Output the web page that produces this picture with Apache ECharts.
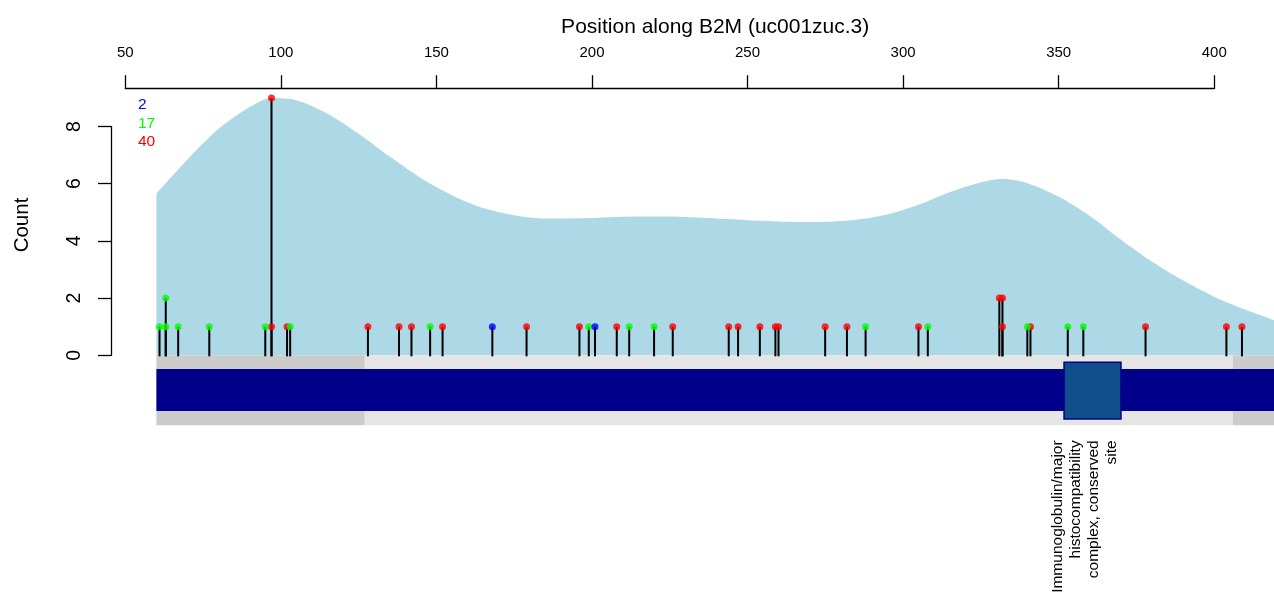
<!DOCTYPE html>
<html><head><meta charset="utf-8">
<script src="https://cdn.jsdelivr.net/npm/echarts@6/dist/echarts.min.js"></script>
<style>html,body{margin:0;padding:0;background:#fff}#c{width:1274px;height:608px}</style>
</head><body><div id="c"></div>
<script>
// ---------- data ----------
const xTicks = [50, 100, 150, 200, 250, 300, 350, 400];
const yTicks = [0, 2, 4, 6, 8];
const mutPos   = [61, 63, 63, 67, 77, 95, 97, 97, 102, 103, 128, 138, 142, 148, 152, 168, 179, 196, 199, 201, 208, 212, 220, 226, 244, 247, 254, 259, 260, 275, 282, 288, 305, 308, 331, 332, 332, 340, 341, 353, 358, 378, 404, 409];
const mutCount = [1, 1, 2, 1, 1, 1, 9, 1, 1, 1, 1, 1, 1, 1, 1, 1, 1, 1, 1, 1, 1, 1, 1, 1, 1, 1, 1, 1, 1, 1, 1, 1, 1, 1, 2, 2, 1, 1, 1, 1, 1, 1, 1, 1];
const mutType  = ['g','g','g','g','g','g','r','r','r','g','r','r','r','g','r','b','r','r','g','b','r','g','g','r','r','r','r','r','r','r','r','g','r','g','r','r','r','g','r','g','g','r','r','r'];
const typeOrder = ['r', 'g', 'b'];
const typeColors = { r: '#FF0000', g: '#00FF00', b: '#0000FF' };
const legendCounts = [2, 17, 40];
const legendTypes = ['b', 'g', 'r'];
const densityPos = [60, 70, 80, 90, 97, 105, 115, 125, 135, 145, 155, 165, 175, 185, 200, 215, 230, 245, 260, 272, 285, 295, 305, 315, 325, 332, 340, 350, 360, 370, 380, 390, 400, 410, 419.3];
const densityVal = [5.66, 6.85, 7.92, 8.68, 9.0, 8.92, 8.45, 7.75, 6.95, 6.2, 5.6, 5.15, 4.9, 4.78, 4.8, 4.85, 4.84, 4.76, 4.68, 4.66, 4.74, 4.92, 5.26, 5.7, 6.04, 6.16, 6.02, 5.55, 4.88, 4.05, 3.28, 2.62, 2.05, 1.6, 1.23];
const regionStart = [60, 127, 406.1];
const regionEnd   = [127, 406.1, 419.3];
const regionShade = ['#CCCCCC', '#E5E5E5', '#CCCCCC'];
const transcriptRange = [60, 419.3];
const domainStart = [351.8];
const domainEnd   = [370.1];
const domainLabel = ['Immunoglobulin/major\nhistocompatibility\ncomplex, conserved\nsite'];
const xTitle = 'Position along B2M (uc001zuc.3)';
const yTitle = 'Count';

// ---------- layout ----------
const FONT = '"Liberation Sans", Arial, Helvetica, sans-serif';
const pxX = 3.1112;            // px per position unit
const y0px = 355.3, pxY = 28.6; // pixel of count 0, px per count
const mainMinY = -2.5, mainMaxY = 9.5;
const xAxisStart = 125.3;

const chart = echarts.init(document.getElementById('c'), null, { renderer: 'canvas' });

const stickData = mutPos.map((p, i) => [p, mutCount[i]]);
const dotSeries = typeOrder.map(t => ({
  type: 'scatter', xAxisIndex: 0, yAxisIndex: 0, z: 10,
  symbol: 'circle', symbolSize: 7, silent: true,
  itemStyle: { color: typeColors[t], borderWidth: 0 },
  data: mutPos.map((p, i) => mutType[i] === t ? [p, mutCount[i]] : null).filter(d => d)
}));

const option = {
  animation: false,
  backgroundColor: '#fff',
  grid: [
    { left: xAxisStart + (60 - 50) * pxX, top: y0px - mainMaxY * pxY, width: 1274 - (xAxisStart + 10 * pxX), height: (mainMaxY - mainMinY) * pxY },
    { left: xAxisStart, top: 87.7, width: (xTicks[xTicks.length - 1] - xTicks[0]) * pxX, height: 1 },
    { left: 111, top: y0px - yTicks[yTicks.length - 1] * pxY, width: 1, height: yTicks[yTicks.length - 1] * pxY }
  ],
  xAxis: [
    { gridIndex: 0, type: 'value', position: 'top', min: transcriptRange[0], max: transcriptRange[1],
      axisLine: { show: false }, axisTick: { show: false }, axisLabel: { show: false }, splitLine: { show: false },
      name: xTitle, nameLocation: 'middle', nameGap: 46,
      nameTextStyle: { fontFamily: FONT, fontSize: 21, color: '#000' } },
    { gridIndex: 1, type: 'value', position: 'top', min: xTicks[0], max: xTicks[xTicks.length - 1], interval: 50,
      axisLine: { show: true, lineStyle: { color: '#000', width: 1.3 } },
      axisTick: { show: true, length: 13.5, lineStyle: { color: '#000', width: 1.3 } },
      axisLabel: { show: true, margin: 27.5, fontFamily: FONT, fontSize: 15, color: '#000' },
      splitLine: { show: false } },
    { gridIndex: 2, type: 'value', show: false, min: 0, max: 1 }
  ],
  yAxis: [
    { gridIndex: 0, type: 'value', min: mainMinY, max: mainMaxY, show: false },
    { gridIndex: 1, type: 'value', min: 0, max: 1, show: false },
    { gridIndex: 2, type: 'value', position: 'left', min: yTicks[0], max: yTicks[yTicks.length - 1], interval: 2,
      axisLine: { show: true, lineStyle: { color: '#000', width: 1.3 } },
      axisTick: { show: true, length: 13, lineStyle: { color: '#000', width: 1.3 } },
      axisLabel: { show: true, rotate: 90, margin: 26, fontFamily: FONT, fontSize: 19.5, color: '#000' },
      splitLine: { show: false } }
  ],
  graphic: [
    { type: 'text', x: 22, y: 225, rotation: Math.PI / 2,
      style: { text: yTitle, font: '20.5px ' + FONT, fill: '#000', align: 'center', verticalAlign: 'middle' } }
  ].concat(legendCounts.map((n, i) => ({
    type: 'text', x: 138, y: 105 + i * 18.4,
    style: { text: String(n), font: '15.5px ' + FONT, fill: typeColors[legendTypes[i]], align: 'left', verticalAlign: 'middle' }
  }))),
  series: [
    { type: 'line', xAxisIndex: 0, yAxisIndex: 0, z: 1, silent: true,
      data: densityPos.map((p, i) => [p, densityVal[i]]),
      smooth: 0.3, showSymbol: false, symbol: 'none',
      lineStyle: { width: 0, color: '#ADD8E6' },
      areaStyle: { color: '#ADD8E6', opacity: 1, origin: 0 } },
    { type: 'custom', xAxisIndex: 0, yAxisIndex: 0, z: 2, silent: true,
      data: regionStart.map((s, i) => [s, regionEnd[i], i]),
      renderItem: (params, api) => {
        const a = api.coord([api.value(0), 0]);
        const b = api.coord([api.value(1), -2.45]);
        return { type: 'rect', shape: { x: a[0], y: a[1], width: b[0] - a[0], height: b[1] - a[1] },
                 style: { fill: regionShade[api.value(2)] } };
      } },
    { type: 'custom', xAxisIndex: 0, yAxisIndex: 0, z: 3, silent: true,
      data: [[transcriptRange[0], transcriptRange[1]]],
      renderItem: (params, api) => {
        const a = api.coord([api.value(0), -0.48]);
        const b = api.coord([api.value(1), -1.95]);
        return { type: 'rect', shape: { x: a[0], y: a[1], width: b[0] - a[0], height: b[1] - a[1] },
                 style: { fill: '#00008B' } };
      } },
    { type: 'custom', xAxisIndex: 0, yAxisIndex: 0, z: 4, silent: true, clip: false,
      data: domainStart.map((s, i) => [s, domainEnd[i], i]),
      renderItem: (params, api) => {
        const a = api.coord([api.value(0), -0.245]);
        const b = api.coord([api.value(1), -2.23]);
        const g = api.coord([api.value(0), -2.45]);
        const cx = (a[0] + b[0]) / 2 - 7.5;
        return { type: 'group', children: [
          { type: 'rect', shape: { x: a[0], y: a[1], width: b[0] - a[0], height: b[1] - a[1] },
            style: { fill: '#104E8B', stroke: '#00008B', lineWidth: 1.5 } },
          { type: 'text', x: cx, y: g[1] + 15, rotation: Math.PI / 2,
            style: { text: domainLabel[api.value(2)], font: '15.5px ' + FONT, fill: '#000',
                     align: 'right', verticalAlign: 'middle', lineHeight: 18 } }
        ] };
      } },
    { type: 'custom', xAxisIndex: 0, yAxisIndex: 0, z: 5, silent: true,
      data: stickData,
      renderItem: (params, api) => {
        const a = api.coord([api.value(0), 0]);
        const b = api.coord([api.value(0), api.value(1)]);
        return { type: 'line', shape: { x1: a[0], y1: a[1] + 1, x2: b[0], y2: b[1] },
                 style: { stroke: '#000', lineWidth: 2 } };
      } }
  ].concat(dotSeries)
};
chart.setOption(option);
</script>
</body></html>
